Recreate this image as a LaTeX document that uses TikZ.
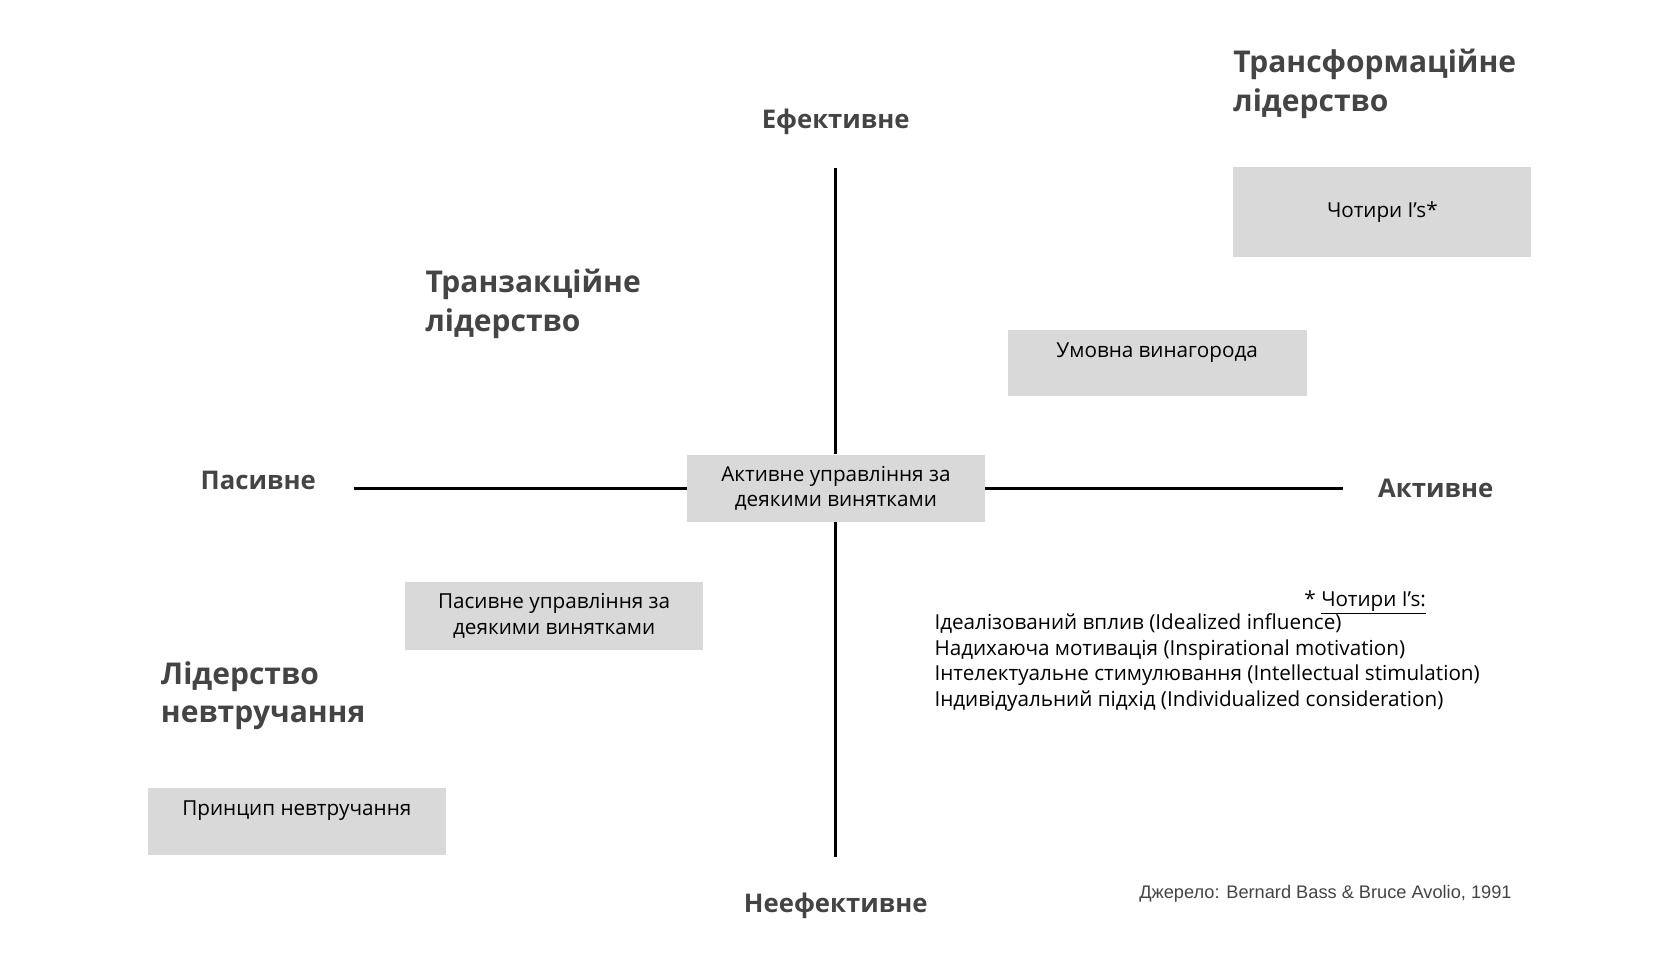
\documentclass[tikz,border=0pt]{standalone}
\usepackage{fontspec}
\setmainfont{Open Sans}
\newfontfamily\srcfont{Liberation Sans}
\definecolor{boxg}{HTML}{D9D9D9}
\definecolor{txtg}{HTML}{444444}
\begin{document}
\begin{tikzpicture}[x=1pt,y=-1pt,
  gbox/.style={fill=boxg,draw=none,inner sep=0pt},
  axislbl/.style={font=\fontsize{24}{28}\selectfont\bfseries,text=txtg},
  headlbl/.style={font=\fontsize{28}{36}\selectfont\bfseries,text=txtg,align=left,anchor=north west,inner sep=0pt},
  boxtxt/.style={font=\fontsize{19.3}{24}\selectfont,align=center},
  axisline/.style={line width=3pt}]
\useasboundingbox (0,0) rectangle (1568,906);
% boxes
\node[gbox,minimum width=278pt,minimum height=84pt,anchor=north west] (b1) at (1151,156) {};
\node[boxtxt] at (b1.center) {Чотири I’s*};
\node[gbox,minimum width=279pt,minimum height=61pt,anchor=north west] (b2) at (941,308) {};
\node[boxtxt,anchor=north] at (1080,316) {Умовна винагорода};
\node[gbox,minimum width=278pt,minimum height=63pt,anchor=north west] (bc) at (641,424) {};
\node[boxtxt] at (bc.center) {Активне управління за\\деякими винятками};
\node[gbox,minimum width=278pt,minimum height=63pt,anchor=north west] (b3) at (378,543) {};
\node[boxtxt] at (b3.center) {Пасивне управління за\\деякими винятками};
\node[gbox,minimum width=278pt,minimum height=63pt,anchor=north west] (b4) at (138,735) {};
\node[boxtxt,anchor=north] at (277,744) {Принцип невтручання};
% axes
\coordinate (top) at (780,157);
\coordinate (bot) at (780,800);
\coordinate (lft) at (330,456);
\coordinate (rgt) at (1253,456);
\draw[axisline] (top) -- (top |- bc.north);
\draw[axisline] (top |- bc.south) -- (bot);
\draw[axisline] (lft) -- (lft -| bc.west);
\draw[axisline] (rgt -| bc.east) -- (rgt);
% axis labels
\node[axislbl] (ef) at (780,114) {Ефективне};
\node[axislbl] (nef) at (780,845) {Неефективне};
\node[axislbl] (pas) at (241,448) {Пасивне};
\node[axislbl] (akt) at (1340,456) {Активне};
% headings
\node[headlbl] (h1) at (1151,46) {Трансформаційне\\лідерство};
\node[headlbl] (h2) at (397,251) {Транзакційне\\лідерство};
\node[headlbl] (h3) at (150,617) {Лідерство\\невтручання};
% notes
\node[anchor=east,inner sep=0pt,font=\fontsize{19.3}{24}\selectfont] (nh) at (1331,562) {* \underline{Чотири I’s:}};
\node[anchor=north west,inner sep=0pt,align=left,font=\fontsize{19.3}{23.7}\selectfont] (nl) at (872,573)
 {Ідеалізований вплив (Idealized influence)\\Надихаюча мотивація (Inspirational motivation)\\Інтелектуальне стимулювання (Intellectual stimulation)\\Індивідуальний підхід (Individualized consideration)};
\node[anchor=east,inner sep=0pt,text=txtg,font=\srcfont\fontsize{17}{20}\selectfont] (src) at (1411,834) {Джерело: Bernard Bass \& Bruce Avolio, 1991};
\end{tikzpicture}
\end{document}
